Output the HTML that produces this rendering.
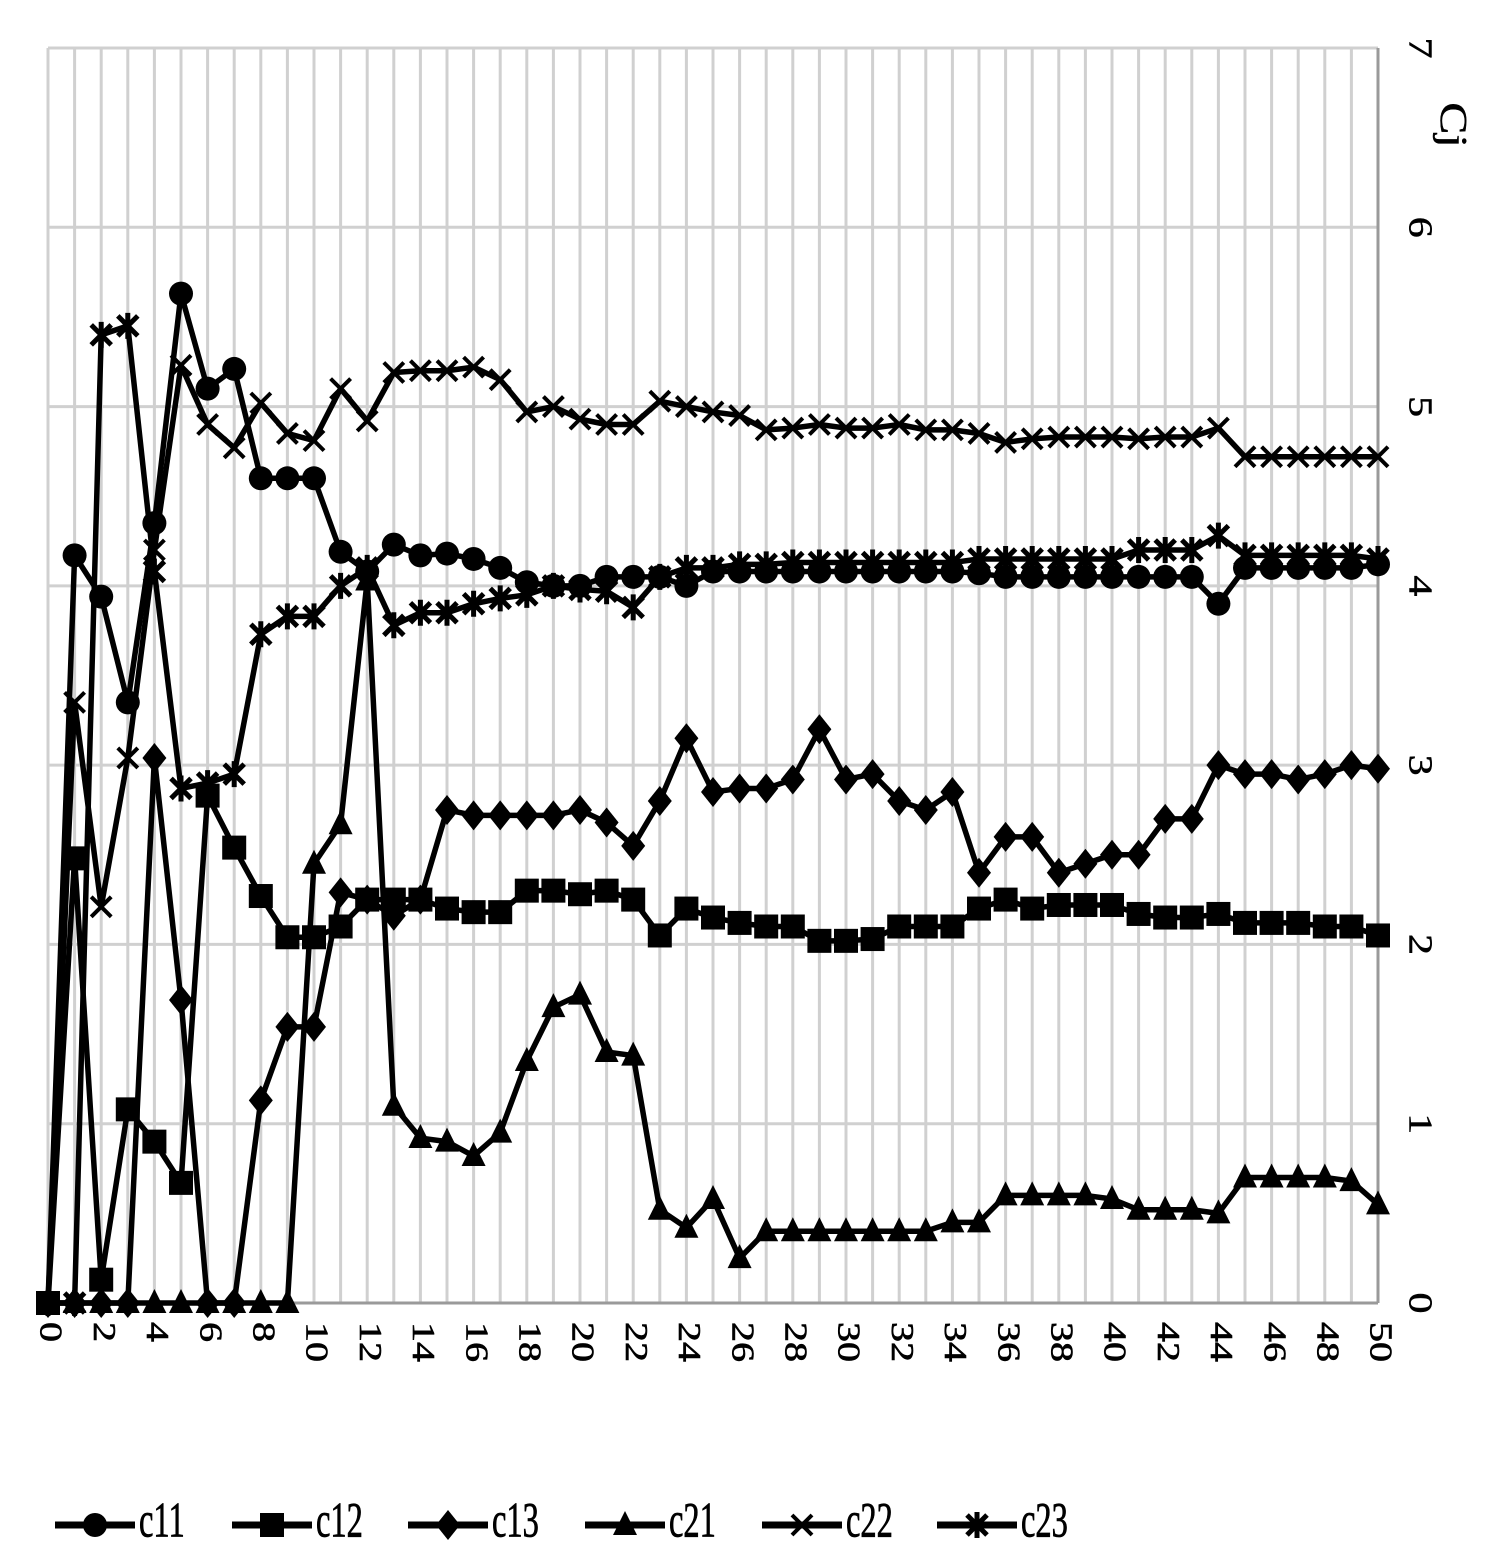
<!DOCTYPE html>
<html><head><meta charset="utf-8"><style>
html,body{margin:0;padding:0;background:#fff;}
svg{display:block;font-family:"Liberation Serif",serif;}
</style></head>
<body>
<svg id="chart" width="1502" height="1568" viewBox="0 0 1502 1568" xmlns="http://www.w3.org/2000/svg">
<g id="grid"></g>
<g id="axes"></g>
<g id="series"></g>
<g id="legend"></g>
</svg>
<script>
const xCategories = Array.from({length:51},(_,i)=>i);
const yTicks = [0,1,2,3,4,5,6,7];
const seriesNames = ["c11","c12","c13","c21","c22","c23"];
const c11 = [0,4.17,3.94,3.35,4.35,5.63,5.1,5.21,4.6,4.6,4.6,4.19,4.08,4.23,4.17,4.18,4.15,4.1,4.02,4.0,4.0,4.05,4.05,4.05,4.0,4.08,4.08,4.08,4.08,4.08,4.08,4.08,4.08,4.08,4.08,4.07,4.05,4.05,4.05,4.05,4.05,4.05,4.05,4.05,3.9,4.1,4.1,4.1,4.1,4.1,4.12];
const c12 = [0,2.48,0.13,1.08,0.9,0.67,2.83,2.54,2.27,2.04,2.04,2.1,2.25,2.25,2.25,2.2,2.18,2.18,2.3,2.3,2.28,2.3,2.25,2.05,2.2,2.15,2.12,2.1,2.1,2.02,2.02,2.03,2.1,2.1,2.1,2.2,2.25,2.2,2.22,2.22,2.22,2.17,2.15,2.15,2.17,2.12,2.12,2.12,2.1,2.1,2.05];
const c13 = [0,0,0,0,3.04,1.69,0,0,1.13,1.54,1.54,2.29,2.25,2.16,2.25,2.75,2.72,2.72,2.72,2.72,2.75,2.68,2.55,2.8,3.15,2.85,2.87,2.87,2.92,3.2,2.92,2.95,2.8,2.75,2.85,2.4,2.6,2.6,2.4,2.45,2.5,2.5,2.7,2.7,3.0,2.95,2.95,2.92,2.95,3.0,2.98];
const c21 = [0,0,0,0,0,0,0,0,0,0,2.45,2.67,4.03,1.1,0.92,0.9,0.82,0.95,1.35,1.65,1.72,1.4,1.38,0.52,0.42,0.58,0.25,0.4,0.4,0.4,0.4,0.4,0.4,0.4,0.45,0.45,0.6,0.6,0.6,0.6,0.58,0.52,0.52,0.52,0.5,0.7,0.7,0.7,0.7,0.68,0.55];
const c22 = [0,3.35,2.21,3.04,4.2,5.23,4.9,4.77,5.02,4.85,4.81,5.1,4.92,5.19,5.2,5.2,5.22,5.15,4.97,5.0,4.93,4.9,4.9,5.03,5.0,4.97,4.95,4.87,4.88,4.9,4.88,4.88,4.9,4.87,4.87,4.85,4.8,4.82,4.83,4.83,4.83,4.82,4.83,4.83,4.88,4.72,4.72,4.72,4.72,4.72,4.72];
const c23 = [0,0,5.4,5.45,4.08,2.87,2.9,2.95,3.73,3.83,3.83,4.0,4.1,3.78,3.85,3.85,3.9,3.93,3.95,4.0,3.98,3.97,3.88,4.05,4.1,4.1,4.12,4.12,4.13,4.13,4.13,4.13,4.13,4.13,4.13,4.15,4.15,4.15,4.15,4.15,4.15,4.2,4.2,4.2,4.28,4.17,4.17,4.17,4.17,4.17,4.15];
const allSeries = [c11,c12,c13,c21,c22,c23];
const markerTypes = ["circle","square","diamond","triangle","x","star"];

const NS="http://www.w3.org/2000/svg";
const X0=48,X1=1378,Y0=1303,Y1=48;
const xScale=v=>X0+(X1-X0)*v/50;
const yScale=v=>Y0-(Y0-Y1)*v/7;
function mk(tag,attrs,parent){const e=document.createElementNS(NS,tag);for(const k in attrs)e.setAttribute(k,attrs[k]);parent.appendChild(e);return e;}
const grid=document.getElementById('grid'),axes=document.getElementById('axes'),ser=document.getElementById('series'),leg=document.getElementById('legend');

xCategories.forEach(c=>{
  const l=mk('line',{x1:xScale(c),x2:xScale(c),y1:Y1,y2:Y0,stroke:'#d0d0d0','stroke-width':3},grid);
  
  
  if(c%2===0){
    const t=mk('text',{transform:`translate(${xScale(c)},1322) rotate(90) scale(1,0.8)`,'font-size':40,'dominant-baseline':'middle',fill:'#000','stroke':'#000','stroke-width':0.8},axes);
    t.textContent=String(c);
    
    
  }
});
yTicks.forEach(v=>{
  const l=mk('line',{x1:X0,x2:X1,y1:yScale(v),y2:yScale(v),stroke:v===0?'#9a9a9a':'#d0d0d0','stroke-width':3},grid);
  
  
  const t=mk('text',{transform:`translate(1417,${yScale(v)}) rotate(90) scale(1,0.8)`,'font-size':42,'text-anchor':'middle','dominant-baseline':'middle',fill:'#000','stroke':'#000','stroke-width':0.6},axes);
  t.textContent=String(v);
  
  
});
const ax=mk('line',{x1:X1,x2:X1,y1:Y1,y2:Y0,stroke:'#9a9a9a','stroke-width':3},axes);


const yt=mk('text',{transform:'translate(1450,125) rotate(90) scale(1,0.8)','font-size':48,'text-anchor':'middle','dominant-baseline':'middle',fill:'#000','stroke':'#000','stroke-width':0.6},axes);
yt.textContent='Cj';



function marker(type,x,y,parent){
  let e;
  if(type==='circle') e=mk('circle',{cx:x,cy:y,r:12,fill:'#000'},parent);
  else if(type==='square') e=mk('rect',{x:x-12,y:y-12,width:24,height:24,fill:'#000'},parent);
  else if(type==='diamond') e=mk('path',{d:`M${x},${y-15}L${x+12},${y}L${x},${y+15}L${x-12},${y}Z`,fill:'#000'},parent);
  else if(type==='triangle') e=mk('path',{d:`M${x},${y-14}L${x+12},${y+10}L${x-12},${y+10}Z`,fill:'#000'},parent);
  else if(type==='x') e=mk('path',{d:`M${x-10},${y-10}L${x+10},${y+10}M${x+10},${y-10}L${x-10},${y+10}`,stroke:'#000','stroke-width':4},parent);
  else e=mk('path',{d:`M${x-10},${y-10}L${x+10},${y+10}M${x+10},${y-10}L${x-10},${y+10}M${x},${y-13}L${x},${y+13}`,stroke:'#000','stroke-width':5},parent);
  return e;
}
allSeries.forEach((data,si)=>{
  const g=mk('g',{},ser);
  
  
  const pts=data.map((v,i)=>xScale(xCategories[i])+','+yScale(v)).join(' ');
  const pl=mk('polyline',{points:pts,fill:'none',stroke:'#000','stroke-width':5.5,'stroke-linejoin':'round'},g);
  
  
  data.forEach((v,i)=>{
    const m=marker(markerTypes[si],xScale(xCategories[i]),yScale(v),g);
    
    
  });
});
const legX=[55,232,408,585,762,937];
seriesNames.forEach((n,i)=>{
  const g=mk('g',{},leg);
  
  
  const x=legX[i],y=1525;
  mk('line',{x1:x,x2:x+80,y1:y,y2:y,stroke:'#000','stroke-width':7},g);
  marker(markerTypes[i],x+40,y,g);
  const t=mk('text',{transform:`translate(${x+84},${y}) scale(0.65,1)`,'font-size':50,'dominant-baseline':'middle',fill:'#000','stroke':'#000','stroke-width':0.8},g);
  t.textContent=n;
  
  
});
</script>
</body></html>
